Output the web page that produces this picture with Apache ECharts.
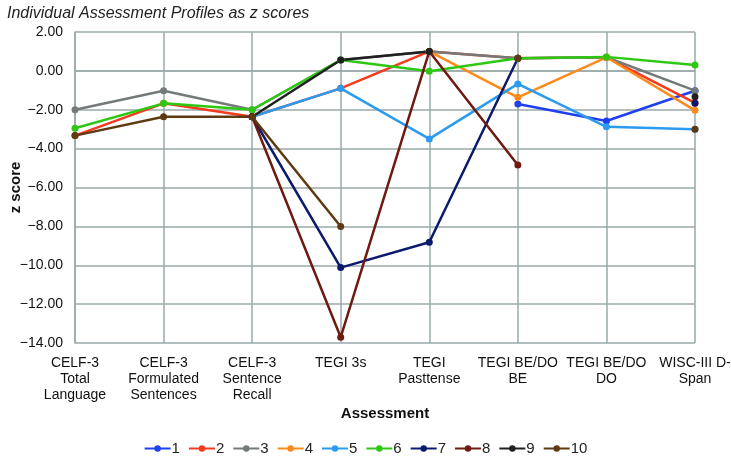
<!DOCTYPE html>
<html><head><meta charset="utf-8">
<script src="https://cdn.jsdelivr.net/npm/echarts@6/dist/echarts.min.js"></script>
<style>html,body{margin:0;padding:0;background:#fff}#c{width:731px;height:456px}</style>
</head><body><div id="c"></div>
<script>
const categories = ["CELF-3\nTotal\nLanguage","CELF-3\nFormulated\nSentences","CELF-3\nSentence\nRecall","TEGI 3s","TEGI\nPasttense","TEGI BE/DO\nBE","TEGI BE/DO\nDO","WISC-III D-\nSpan"];
const yTicks = {min:-14, max:2, interval:2};
const s1  = [null, null, null, null, null, -1.70, -2.58, -1.02];
const s2  = [-3.33, -1.67, -2.36, -0.90, 1.00, 0.65, 0.70, -1.65];
const s3  = [-2.00, -1.02, -2.00, 0.56, 1.00, 0.65, 0.70, -1.02];
const s4  = [null, null, null, null, 1.00, -1.36, 0.70, -2.03];
const s5  = [null, null, -2.36, -0.90, -3.50, -0.67, -2.88, -3.00];
const s6  = [-2.95, -1.67, -2.00, 0.56, -0.02, 0.65, 0.72, 0.30];
const s7  = [null, null, -2.36, -10.12, -8.82, 0.65, null, -1.67];
const s8  = [null, null, -2.36, -13.70, 1.00, -4.84, null, null];
const s9  = [null, null, -2.36, 0.56, 1.00, null, null, -1.33];
const s10 = [-3.33, -2.36, -2.36, -8.01, null, 0.65, null, -3.00];
const names = ["1","2","3","4","5","6","7","8","9","10"];
const colors = ["#2040f0","#f53a1e","#747a7a","#ff8a1c","#2b9bf0","#2ec814","#0c1a6e","#6e1a10","#202020","#5e3a12"];
const allData = [s1,s2,s3,s4,s5,s6,s7,s8,s9,s10];

const font = "'Liberation Sans',Arial,sans-serif";
const chart = echarts.init(document.getElementById('c'));
chart.setOption({
  animation:false,
  color: colors,
  title:{text:"Individual Assessment Profiles as z scores", left:2, top:1,
    textStyle:{fontFamily:font, fontStyle:'italic', fontWeight:'normal', fontSize:16, color:'#222'}},
  grid:{left:75, right:36, top:32, bottom:113, containLabel:false, outerBoundsMode:'none'},
  legend:{top:436, left:'center', itemWidth:26, itemHeight:8, itemGap:8,
    textStyle:{fontFamily:font, fontSize:15, color:'#222', padding:[0,0,0,-4]},
    data:names},
  xAxis:{type:'category', data:categories, boundaryGap:false,
    name:'Assessment', nameLocation:'middle', nameGap:63, nameMoveOverlap:false,
    nameTextStyle:{fontFamily:font, fontWeight:'bold', fontSize:15, color:'#111'},
    axisLine:{show:true, lineStyle:{color:'#9aaaa8', width:1.5}},
    axisTick:{show:false},
    axisLabel:{fontFamily:font, fontSize:14, color:'#111', lineHeight:16, margin:12, interval:0},
    splitLine:{show:true, lineStyle:{color:'#9aaaa8', width:1.5}}},
  yAxis:{type:'value', min:yTicks.min, max:yTicks.max, interval:yTicks.interval,
    name:'z score', nameLocation:'middle', nameGap:52, nameRotate:90, nameMoveOverlap:false,
    nameTextStyle:{fontFamily:font, fontWeight:'bold', fontSize:15, color:'#111'},
    axisLine:{show:true, lineStyle:{color:'#9aaaa8', width:1.5}},
    axisTick:{show:false},
    axisLabel:{fontFamily:font, fontSize:14, color:'#111', margin:12,
      formatter:v=> (v<0?'\u2212':'') + Math.abs(v).toFixed(2)},
    splitLine:{show:true, lineStyle:{color:'#9aaaa8', width:1.5}}},
  series: allData.map((d,i)=>({
    name:names[i], type:'line', data:d, symbol:'circle', symbolSize:7,
    showAllSymbol:true, connectNulls:false,
    lineStyle:{width:2.5, color:colors[i]}, itemStyle:{color:colors[i]}
  }))
});
</script></body></html>
